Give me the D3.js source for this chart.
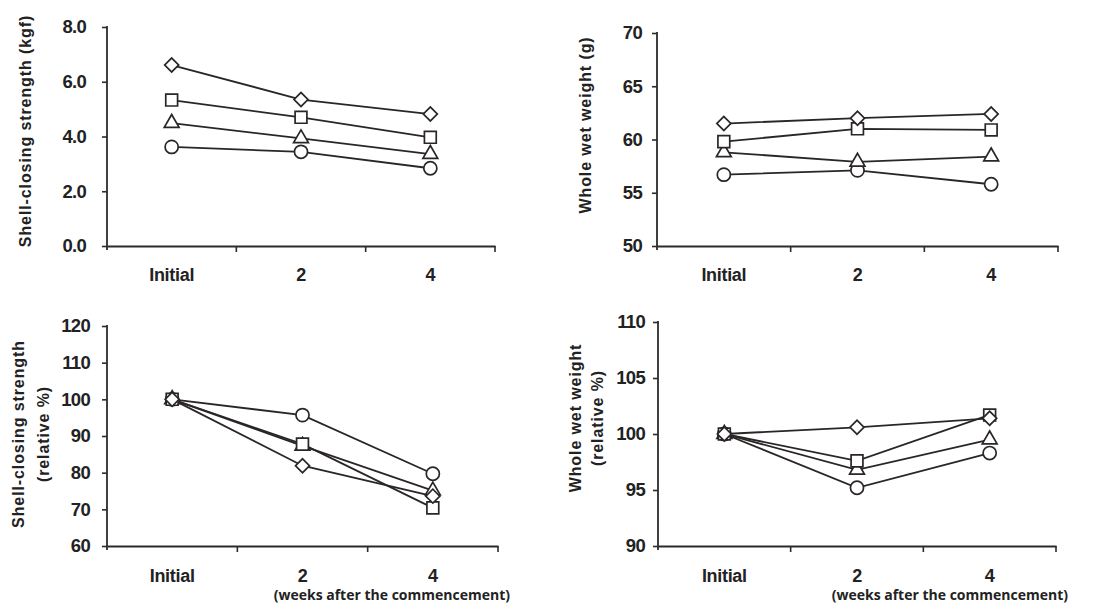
<!DOCTYPE html>
<html>
<head>
<meta charset="utf-8">
<script src="https://cdn.jsdelivr.net/npm/d3@7"></script>
<style>
  body { margin: 0; background: #fff; }
  svg { display: block; }
  text { font-family: "Liberation Sans", Arial, sans-serif; fill: #222; }
</style>
</head>
<body>
<svg width="1094" height="604"></svg>
<script>
var width = 1094;
var height = 604;

// x categories (weeks)
const categories = ["Initial", "2", "4"];

// Shell-closing strength (kgf)
const strengthCircle = [3.62, 3.44, 2.84];
const strengthTriangle = [4.49, 3.93, 3.36];
const strengthSquare = [5.33, 4.70, 3.97];
const strengthDiamond = [6.61, 5.35, 4.82];

// Whole wet weight (g)
const weightCircle = [56.7, 57.1, 55.8];
const weightTriangle = [58.8, 57.9, 58.4];
const weightSquare = [59.8, 61.0, 60.9];
const weightDiamond = [61.5, 62.0, 62.4];

// Shell-closing strength (relative %)
const relStrengthCircle = [100, 95.7, 79.7];
const relStrengthTriangle = [100, 87.3, 75.1];
const relStrengthSquare = [100, 87.8, 70.4];
const relStrengthDiamond = [100, 81.9, 73.6];

// Whole wet weight (relative %)
const relWeightCircle = [100, 95.2, 98.3];
const relWeightTriangle = [100, 96.8, 99.5];
const relWeightSquare = [100, 97.6, 101.7];
const relWeightDiamond = [100, 100.6, 101.4];

// tick labels
const strengthTicks = [0, 2, 4, 6, 8];
const weightTicks = [50, 55, 60, 65, 70];
const relStrengthTicks = [60, 70, 80, 90, 100, 110, 120];
const relWeightTicks = [90, 95, 100, 105, 110];

var svg = d3.select("svg").attr("width", width).attr("height", height);

// drawing order: circle, triangle, square, diamond (diamond on top)
var symbols = [
  { type: d3.symbolCircle, size: 135, rotate: 0 },
  { type: d3.symbolTriangle, size: 95, rotate: 0 },
  { type: d3.symbolSquare, size: 140, rotate: 0 },
  { type: d3.symbolSquare, size: 98, rotate: 45 }
];

var panels = [
  { left: 107, right: 495, top: 27, bottom: 246, ticks: strengthTicks, fmt: d3.format(".1f"), pad: 16,
    series: [strengthCircle, strengthTriangle, strengthSquare, strengthDiamond],
    title: ["Shell-closing strength (kgf)"], titleX: [25], titleY: 131, labelY: 281, weeks: false },
  { left: 657, right: 1058, top: 33, bottom: 246, ticks: weightTicks, fmt: d3.format("d"), pad: 10,
    series: [weightCircle, weightTriangle, weightSquare, weightDiamond],
    title: ["Whole wet weight (g)"], titleX: [585], titleY: 125, labelY: 281, weeks: false },
  { left: 107, right: 498, top: 326, bottom: 546, ticks: relStrengthTicks, fmt: d3.format("d"), pad: 12,
    series: [relStrengthCircle, relStrengthTriangle, relStrengthSquare, relStrengthDiamond],
    title: ["Shell-closing strength", "(relative %)"], titleX: [18, 43], titleY: 434, labelY: 582, weeks: true },
  { left: 658, right: 1056, top: 322, bottom: 546, ticks: relWeightTicks, fmt: d3.format("d"), pad: 8,
    series: [relWeightCircle, relWeightTriangle, relWeightSquare, relWeightDiamond],
    title: ["Whole wet weight", "(relative %)"], titleX: [575, 597], titleY: 418, labelY: 582, weeks: true }
];

panels.forEach(function (p) {
  var g = svg.append("g");

  var xScale = d3.scaleBand().domain(categories).range([p.left, p.right]).padding(0);
  var yScale = d3.scaleLinear().domain([p.ticks[0], p.ticks[p.ticks.length - 1]]).range([p.bottom, p.top]);

  // y axis
  var yAxis = d3.axisLeft(yScale).tickValues(p.ticks).tickFormat(p.fmt)
    .tickSize(5).tickSizeOuter(0).tickPadding(p.pad);
  var yg = g.append("g").attr("transform", "translate(" + p.left + ",0)").call(yAxis);
  yg.select(".domain").attr("stroke", "#2b2b2b").attr("stroke-width", 1.8)
    .attr("d", "M0," + (p.top - 1) + "V" + (p.bottom + 4));
  yg.selectAll(".tick line").attr("stroke", "#2b2b2b").attr("stroke-width", 1.6);
  yg.selectAll(".tick text").attr("font-size", 18.5).attr("font-weight", "bold")
    .attr("letter-spacing", -0.7).attr("fill", "#111");

  // x axis: line, ticks at band edges, labels at band centres
  var xAxis = d3.axisBottom(xScale).tickSize(0).tickSizeOuter(0).tickPadding(0);
  var xg = g.append("g").attr("transform", "translate(0," + p.bottom + ")").call(xAxis);
  xg.select(".domain").attr("stroke", "#2b2b2b").attr("stroke-width", 1.8);
  xg.selectAll(".tick text").attr("y", p.labelY - p.bottom).attr("dy", 0)
    .attr("font-size", 18).attr("font-weight", "bold").attr("letter-spacing", -0.3).attr("fill", "#111");
  xg.selectAll(".edge").data(categories).enter().append("line")
    .attr("x1", function (c) { return xScale(c) + xScale.bandwidth(); })
    .attr("x2", function (c) { return xScale(c) + xScale.bandwidth(); })
    .attr("y1", 0).attr("y2", 6)
    .attr("stroke", "#2b2b2b").attr("stroke-width", 1.6);

  // lines first
  var line = d3.line()
    .x(function (d, i) { return xScale(categories[i]) + xScale.bandwidth() / 2; })
    .y(function (d) { return yScale(d); });
  p.series.forEach(function (s) {
    g.append("path").datum(s).attr("d", line)
      .attr("fill", "none").attr("stroke", "#2a2626").attr("stroke-width", 1.8);
  });

  // markers on top
  p.series.forEach(function (s, k) {
    var sym = symbols[k];
    g.selectAll(null).data(s).enter().append("path")
      .attr("d", d3.symbol().type(sym.type).size(sym.size))
      .attr("transform", function (d, i) {
        return "translate(" + (xScale(categories[i]) + xScale.bandwidth() / 2) + "," + yScale(d) + ") rotate(" + sym.rotate + ")";
      })
      .attr("fill", "#fff").attr("stroke", "#2a2626").attr("stroke-width", 1.7);
  });

  // y title
  p.title.forEach(function (t, j) {
    g.append("text")
      .attr("transform", "translate(" + p.titleX[j] + "," + p.titleY + ") rotate(-90)")
      .attr("dy", "0.35em")
      .attr("text-anchor", "middle")
      .attr("font-size", 16).attr("font-weight", "bold").attr("letter-spacing", 0.9)
      .attr("fill", "#333")
      .text(t);
  });

  if (p.weeks) {
    g.append("text")
      .attr("x", p.right + 12).attr("y", p.bottom + 54)
      .attr("text-anchor", "end")
      .style("font-family", "'Open Sans', sans-serif")
      .attr("font-size", 14).attr("font-weight", "bold").attr("letter-spacing", 0)
      .attr("fill", "#1a1a1a")
      .text("(weeks after the commencement)");
  }
});
</script>
</body>
</html>
